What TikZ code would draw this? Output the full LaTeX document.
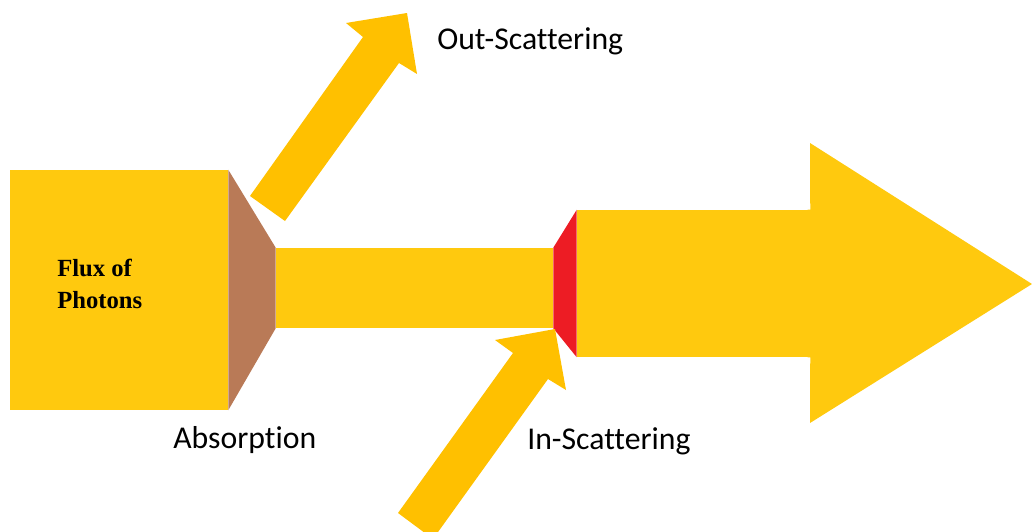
\documentclass[tikz,border=0pt]{standalone}
\usepackage{fontspec}
\setmainfont{Carlito}[Ligatures=NoCommon]
\newfontfamily\fluxfont{Liberation Serif}
\usepackage{xcolor}
\usepackage{tikz}
\usetikzlibrary{positioning, fit}

\definecolor{gold}{RGB}{255,201,14}
\definecolor{amber}{RGB}{255,192,0}
\definecolor{clay}{RGB}{185,122,87}
\definecolor{scarlet}{RGB}{237,28,36}

\begin{document}
\begin{tikzpicture}[
    x=0.75pt, y=-0.75pt,
    block/.style={fill=gold, draw=none, inner sep=0pt},
    beam/.style={fill=amber, draw=none},
    tag/.style={font=\fontsize{23.8}{28}\selectfont, inner sep=0pt, anchor=base west},
    every node/.style={font=\small}
]
    \useasboundingbox (0,0) rectangle (1032,532);
    \clip (0,0) rectangle (1032,532);

    % Beam blocks
    \node[block, fit={(10,170) (228,410)}] (flux) {};
    \node[block, fit={(276,248) (553,328)}] (pipe) {};
    \node[block, fit={(577,210) (810,357)}] (wide) {};
    \fill[gold] ([xshift=-2pt]wide.north east) -- (wide.north east) -- (810,143) -- (1032,284)
        -- (810,423) -- (wide.south east) -- ([xshift=-2pt]wide.south east) -- cycle;

    % Absorption and in-scattering faces
    \fill[clay] (flux.north east) -- (pipe.north west) -- (pipe.south west) -- (flux.south east) -- cycle;
    \fill[scarlet] (pipe.north east) -- (wide.north west) -- (wide.south west) -- (pipe.south east) -- cycle;

    % Scattering arrows
    \fill[beam] (250,196) -- (363,37) -- (346,23) -- (407,13) -- (417,74) -- (399,63) -- (285,221) -- cycle;
    \fill[beam] (398,513) -- (513,353) -- (495,340) -- (555,329) -- (566,390) -- (548,379) -- (433,539) -- cycle;

    % Labels
    \node[font=\fluxfont\bfseries\fontsize{18.5}{24}\selectfont, align=left, anchor=north west, inner sep=0pt] (fluxtext) at (57,259) {Flux of\\Photons};
    \node[tag] (outtext) at (437,49) {Out-Scattering};
    \node[tag] (abstext) at (173,448) {Absorption};
    \node[tag] (intext) at (527,449) {In-Scattering};
\end{tikzpicture}
\end{document}
